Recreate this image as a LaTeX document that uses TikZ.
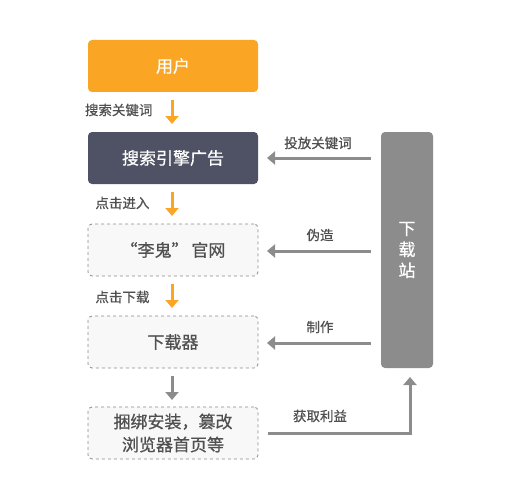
\documentclass[tikz,border=0pt]{standalone}
\usepackage{fontspec}
\setmainfont{Noto Sans CJK SC}
\newfontfamily\medf[FakeBold=0.7]{Noto Sans CJK SC}
\usetikzlibrary{arrows.meta}
\definecolor{org}{HTML}{FBA524}
\definecolor{dark}{HTML}{4F5165}
\definecolor{gr}{HTML}{8C8C8C}
\definecolor{txt}{HTML}{505050}
\definecolor{bdr}{HTML}{8A8A8A}
\definecolor{lite}{HTML}{F8F8F8}
\begin{document}
\begin{tikzpicture}[x=1pt,y=-1pt,
  box/.style={minimum width=170pt,minimum height=52pt,rounded corners=4pt,inner sep=0pt,font=\medf\fontsize{17}{21}\selectfont,align=center},
  dbox/.style={box,draw=bdr,dashed,fill=lite,text=txt,line width=0.8pt},
  lbl/.style={font=\medf\fontsize{13.5}{16}\selectfont,text=txt},
  oarr/.style={org,line width=3pt,-{Triangle[width=13pt,length=8pt]}},
  garr/.style={gr,line width=3pt,-{Triangle[width=13pt,length=8pt]}}]
\useasboundingbox (0,0) rectangle (521,500);
\node[box,fill=org,text=white] (user) at (173,66) {用户};
\node[box,fill=dark,text=white] (se) at (173,158) {搜索引擎广告};
\node[dbox] (site) at (173,250) {“李鬼”\,官网};
\node[dbox] (dl) at (173,342) {下载器};
\node[dbox,font=\medf\fontsize{17}{23}\selectfont] (bund) at (173,433) {捆绑安装，篡改\\浏览器首页等};
\node[fill=gr,rounded corners=4pt,minimum width=52pt,minimum height=236pt,inner sep=0pt,text=white,font=\medf\fontsize{17}{21}\selectfont,align=center] (zd) at (407,250) {下\\载\\站};
\coordinate (a1s) at (172,100); \coordinate (a1e) at (172,124);
\coordinate (a2s) at (172,192); \coordinate (a2e) at (172,216);
\coordinate (a3s) at (172,284); \coordinate (a3e) at (172,308);
\coordinate (a4s) at (172,376); \coordinate (a4e) at (172,400);
\draw[oarr] (a1s) -- (a1e);
\draw[oarr] (a2s) -- (a2e);
\draw[oarr] (a3s) -- (a3e);
\draw[garr] (a4s) -- (a4e);
\node[lbl,anchor=east] (l1) at (156,110) {搜索关键词};
\node[lbl,anchor=east] (l2) at (153,203) {点击进入};
\node[lbl,anchor=east] (l3) at (153,297) {点击下载};
\coordinate (s1) at (371,158); \coordinate (e1) at (267,158);
\coordinate (s2) at (371,251); \coordinate (e2) at (267,251);
\coordinate (s3) at (371,343); \coordinate (e3) at (267,343);
\draw[garr] (s1) -- (e1);
\draw[garr] (s2) -- (e2);
\draw[garr] (s3) -- (e3);
\node[lbl] (t1) at (318,143) {投放关键词};
\node[lbl] (t2) at (320,235) {伪造};
\node[lbl] (t3) at (320,327) {制作};
\node[lbl] (t4) at (320,416) {获取利益};
\coordinate (c0) at (268,433); \coordinate (c1) at (410,433); \coordinate (c2) at (410,377);
\draw[garr] (c0) -- (c1) -- (c2);
\end{tikzpicture}
\end{document}
